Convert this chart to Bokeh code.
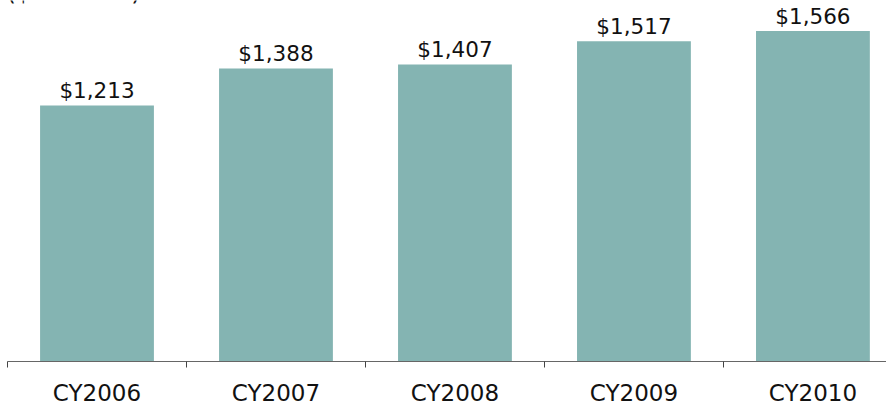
from bokeh.plotting import figure
from bokeh.models import ColumnDataSource, FixedTicker, LabelSet, Range1d
from bokeh.core.properties import value
from bokeh.embed import file_html
from bokeh.resources import INLINE

categories = ["CY2006", "CY2007", "CY2008", "CY2009", "CY2010"]
values = [1213, 1388, 1407, 1517, 1566]
value_labels = ["$1,213", "$1,388", "$1,407", "$1,517", "$1,566"]
unit_label = "($ millions)"

xs = list(range(len(categories)))
src = ColumnDataSource(dict(x=xs, top=values, lab=value_labels))

p = figure(width=886, height=399, output_backend="svg", toolbar_location=None,
           x_range=Range1d(-0.5, 4.411), y_range=Range1d(0, 1710),
           min_border_left=7, min_border_right=0, min_border_top=0, min_border_bottom=0)
p.frame_width = 879
p.frame_height = 361
p.outline_line_color = None
p.background_fill_color = "white"
p.border_fill_color = "white"
p.xgrid.visible = False
p.ygrid.visible = False
p.yaxis.visible = False

p.vbar(x="x", top="top", width=0.636, source=src, color="#84B4B2", line_color=None)

labels = LabelSet(x="x", y="top", text="lab", source=src, text_align="center",
                  text_baseline="alphabetic", y_offset=7,
                  text_font=value("DejaVu Sans"), text_font_size="21.5px", text_color="#111111")
p.add_layout(labels)

p.text(x=[-0.5], y=[1710], text=[unit_label], text_font=value("DejaVu Sans"),
       text_font_size="24px", text_color="#111111", text_baseline="alphabetic",
       x_offset=-1, y_offset=-9)

ax = p.xaxis[0]
ax.ticker = FixedTicker(ticks=xs, minor_ticks=[i - 0.5 for i in range(len(categories) + 1)])
ax.major_label_overrides = {i: c for i, c in enumerate(categories)}
ax.major_tick_out = 0
ax.major_tick_in = 0
ax.minor_tick_out = 6
ax.minor_tick_in = 0
ax.minor_tick_line_color = "#444444"
ax.axis_line_color = "#666666"
ax.axis_line_width = 1
ax.major_label_standoff = 12
ax.major_label_text_font = "DejaVu Sans"
ax.major_label_text_font_size = "23px"
ax.major_label_text_color = "#111111"

open("out.html", "w").write(file_html(p, INLINE))
